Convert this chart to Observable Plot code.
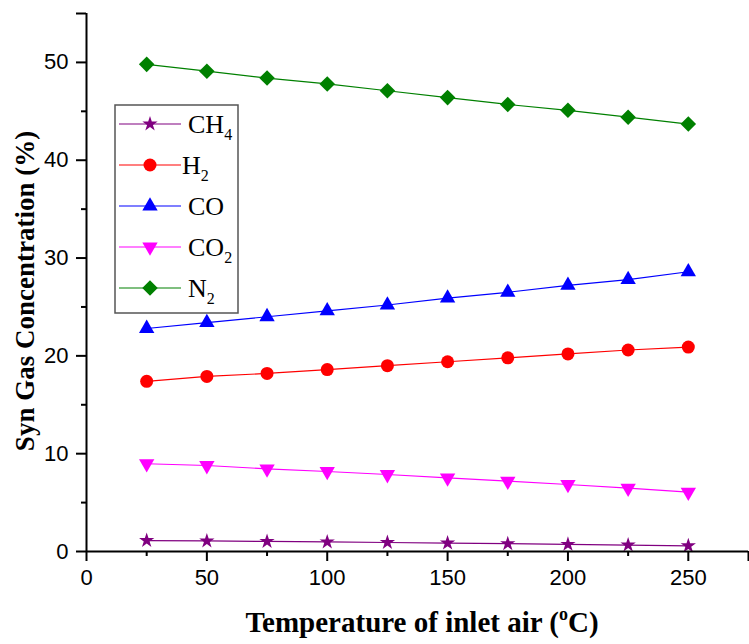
<!DOCTYPE html>
<html><head><meta charset="utf-8">
<script src="https://cdn.jsdelivr.net/npm/d3@7"></script>
<script src="https://cdn.jsdelivr.net/npm/@observablehq/plot@0.6"></script>
<style>
body{margin:0;background:#fff;}
#chart{width:749px;height:644px;}
</style></head><body><div id="chart"></div>
<script>
// ---- data ----
const temperature = [25, 50, 75, 100, 125, 150, 175, 200, 225, 250];
const ch4 = [1.12, 1.08, 1.03, 0.98, 0.92, 0.86, 0.80, 0.73, 0.66, 0.58];
const h2  = [17.4, 17.9, 18.2, 18.6, 19.0, 19.4, 19.8, 20.2, 20.6, 20.9];
const co  = [22.8, 23.4, 24.0, 24.6, 25.2, 25.9, 26.5, 27.2, 27.8, 28.6];
const co2 = [8.97, 8.79, 8.45, 8.18, 7.87, 7.53, 7.19, 6.85, 6.47, 6.06];
const n2  = [49.8, 49.1, 48.4, 47.8, 47.1, 46.4, 45.7, 45.1, 44.4, 43.7];
const seriesNames = ["CH", "H", "CO", "CO", "N"];
const seriesSubs  = ["4", "2", "", "2", "2"];
const seriesColors = ["#800080", "#ff0000", "#0000ff", "#ff00ff", "#008000"];
const xMajorTicks = [0, 50, 100, 150, 200, 250];
const xMinorTicks = [25, 75, 125, 175, 225];
const xEndTicks = [275];
const yMajorTicks = [0, 10, 20, 30, 40, 50];
const yMinorTicks = [5, 15, 25, 35, 45];
const yEndTicks = [55];
const xTitleMain = "Temperature of inlet air (";
const xTitleSup = "o";
const xTitleEnd = "C)";
const yTitle = "Syn Gas Concentration (%)";

// ---- symbols ----
const triangleDown = {
  draw(context, size) {
    const y = -Math.sqrt(size / (Math.sqrt(3) * 3));
    context.moveTo(0, -y * 2);
    context.lineTo(-Math.sqrt(3) * y, y);
    context.lineTo(Math.sqrt(3) * y, y);
    context.closePath();
  }
};
const symbols = [d3.symbolStar, d3.symbolCircle, d3.symbolTriangle, triangleDown, d3.symbolDiamond2];
const radii = [4.8, 6.5, 5.7, 5.7, 7.0];
const allValues = [ch4, h2, co, co2, n2];

const series = allValues.map((vals, k) => ({
  rows: temperature.map((t, i) => ({t, v: vals[i]})),
  color: seriesColors[k], symbol: symbols[k], r: radii[k]
}));

const marks = [];
series.forEach(s => {
  marks.push(Plot.line(s.rows, {x: "t", y: "v", stroke: s.color, strokeWidth: 1.2}));
});
series.forEach(s => {
  marks.push(Plot.dot(s.rows, {x: "t", y: "v", symbol: s.symbol, r: s.r, fill: s.color, stroke: "none"}));
});

const svg = Plot.plot({
  width: 749, height: 644,
  marginLeft: 86, marginRight: 1, marginTop: 13, marginBottom: 93,
  style: {fontFamily: "'Liberation Sans', Arial, sans-serif", fontSize: "22px", color: "#000", background: "#fff"},
  x: {domain: [0, 275], label: null},
  y: {domain: [0, 55], label: null},
  marks: [
    ...marks,
    Plot.axisX({ticks: xMajorTicks, tickSize: 10, tickPadding: 8, strokeWidth: 2, label: null, fontSize: 22}),
    Plot.axisX({ticks: xMinorTicks, tickSize: 5, tickFormat: () => "", strokeWidth: 2, label: null}),
    Plot.axisX({ticks: xEndTicks, tickSize: 10, tickFormat: () => "", strokeWidth: 2, label: null}),
    Plot.axisY({ticks: yMajorTicks, tickSize: 10, tickPadding: 8, strokeWidth: 2, label: null, fontSize: 22}),
    Plot.axisY({ticks: yMinorTicks, tickSize: 5, tickFormat: () => "", strokeWidth: 2, label: null}),
    Plot.axisY({ticks: yEndTicks, tickSize: 10, tickFormat: () => "", strokeWidth: 2, label: null}),
    Plot.ruleX([0], {strokeWidth: 2}),
    Plot.ruleY([0], {strokeWidth: 2})
  ]
});

const g = d3.select(svg);
const serif = "'Liberation Serif', 'Times New Roman', serif";

// x title
const xt = g.append("text")
  .attr("x", 422).attr("y", 632)
  .attr("text-anchor", "middle")
  .attr("font-family", serif).attr("font-weight", "bold").attr("font-size", 29)
  .attr("fill", "#000");
xt.append("tspan").text(xTitleMain);
xt.append("tspan").attr("font-size", 18).attr("dy", -12).text(xTitleSup);
xt.append("tspan").attr("dy", 12).text(xTitleEnd);

// y title
g.append("text")
  .attr("transform", "translate(34,291) rotate(-90)")
  .attr("text-anchor", "middle")
  .attr("font-family", serif).attr("font-weight", "bold").attr("font-size", 27)
  .attr("fill", "#000")
  .text(yTitle);

// legend
const lg = g.append("g");
lg.append("rect").attr("x", 115).attr("y", 105).attr("width", 123).attr("height", 208)
  .attr("fill", "#fff").attr("stroke", "#555").attr("stroke-width", 1.5);
seriesNames.forEach((name, k) => {
  const cy = 124 + 41 * k;
  lg.append("line").attr("x1", 119).attr("x2", 181).attr("y1", cy).attr("y2", cy)
    .attr("stroke", seriesColors[k]).attr("stroke-width", 1.2);
  lg.append("path").attr("transform", `translate(150,${cy})`)
    .attr("d", d3.symbol(symbols[k], radii[k] * radii[k] * Math.PI)())
    .attr("fill", seriesColors[k]);
  const t = lg.append("text").attr("x", k === 1 ? 182 : 188).attr("y", cy + 9)
    .attr("text-anchor", "start")
    .attr("font-family", serif).attr("font-size", 26).attr("fill", "#000");
  t.append("tspan").text(name);
  if (seriesSubs[k]) t.append("tspan").attr("font-size", 16).attr("dy", 7).text(seriesSubs[k]);
});

document.getElementById("chart").appendChild(svg);
</script>
</body></html>
